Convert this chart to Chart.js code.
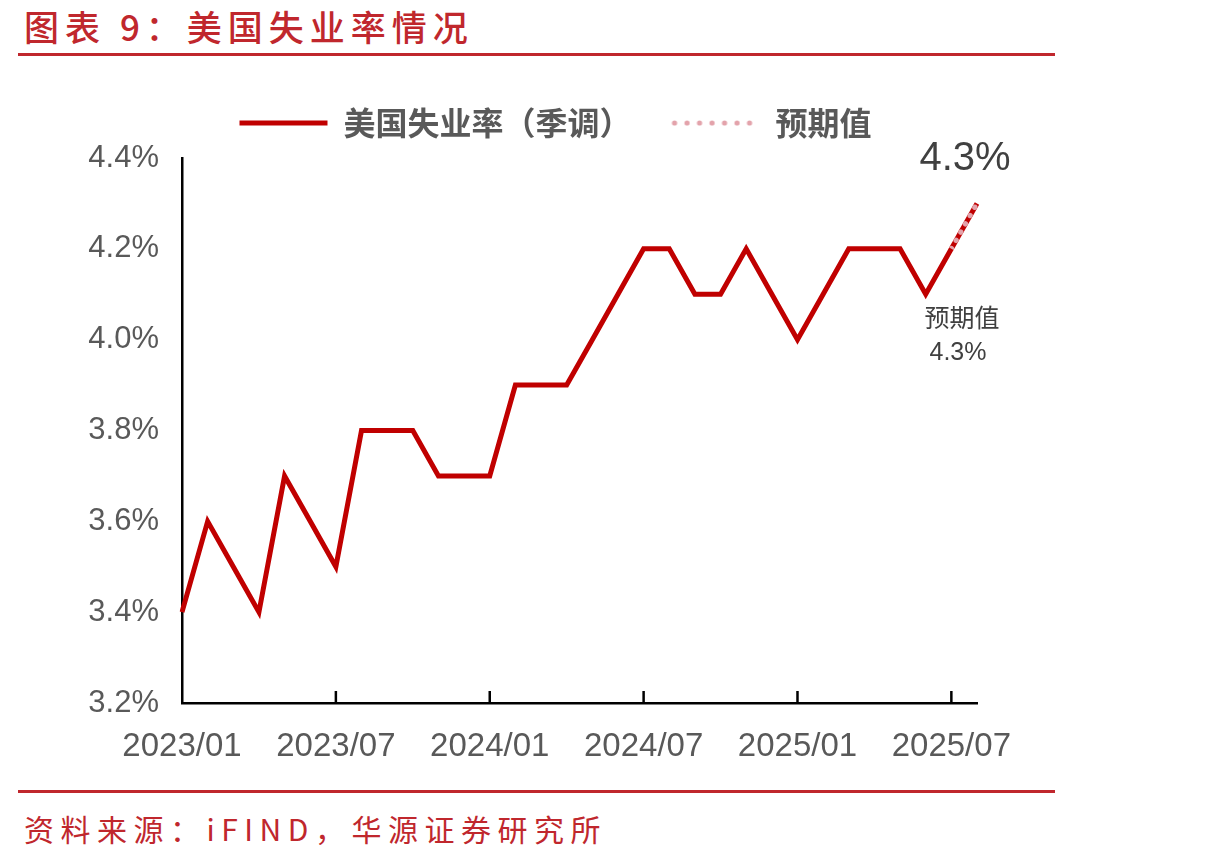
<!DOCTYPE html>
<html>
<head>
<meta charset="utf-8">
<script src="https://cdn.jsdelivr.net/npm/chart.js@4.4.1/dist/chart.umd.min.js"></script>
<style>
  body { margin: 0; background: #fff; width: 1210px; height: 865px; position: relative; overflow: hidden; }
  .title { position: absolute; left: 24px; top: 0px; font: 500 35px "Noto Sans CJK SC", sans-serif; color: #c0272d; letter-spacing: 6px; }
  .rule { position: absolute; left: 18px; width: 1037px; height: 3px; background: #c0272d; }
  .source { position: absolute; left: 24px; top: 806px; font: 30px "Noto Sans CJK SC", sans-serif; color: #c0272d; letter-spacing: 6.5px; }
  #box { position: absolute; left: 0; top: 67px; width: 1060px; height: 713px; }
</style>
</head>
<body>
<div class="title">图表 9：美国失业率情况</div>
<div class="rule" style="top:53px"></div>
<div id="box"><canvas id="rate"></canvas></div>
<div class="rule" style="top:790px"></div>
<div class="source">资料来源：iFIND，华源证券研究所</div>
<script>
const months = ['2023/01','2023/02','2023/03','2023/04','2023/05','2023/06','2023/07','2023/08','2023/09','2023/10','2023/11','2023/12',
  '2024/01','2024/02','2024/03','2024/04','2024/05','2024/06','2024/07','2024/08','2024/09','2024/10','2024/11','2024/12',
  '2025/01','2025/02','2025/03','2025/04','2025/05','2025/06','2025/07','2025/08'];
const unemployment = [3.4,3.6,3.5,3.4,3.7,3.6,3.5,3.8,3.8,3.8,3.7,3.7,
  3.7,3.9,3.9,3.9,4.0,4.1,4.2,4.2,4.1,4.1,4.2,4.1,
  4.0,4.1,4.2,4.2,4.2,4.1,4.2,null];
const forecast = [null,null,null,null,null,null,null,null,null,null,null,null,
  null,null,null,null,null,null,null,null,null,null,null,null,
  null,null,null,null,null,null,4.2,4.3];
const yTicks = [3.2,3.4,3.6,3.8,4.0,4.2,4.4];

const numFont = "'Liberation Sans', Arial, 'Noto Sans CJK SC', sans-serif";
const pink = '#e3a3ab';

// dotted legend marker (the built-in line marker comes out solid)
const dots = document.createElement('canvas');
dots.width = 90; dots.height = 8;
{
  const c = dots.getContext('2d');
  c.fillStyle = pink;
  for (let x = 4; x < 90; x += 12.5) {
    c.beginPath(); c.arc(x, 4, 2.6, 0, Math.PI * 2); c.fill();
  }
}

const tweaks = {
  id: 'tweaks',
  afterInit(chart) {
    // extra room under the legend
    const fit = chart.legend.fit;
    chart.legend.fit = function () { fit.call(this); this.height += 9; };
  },
  afterLayout(chart) {
    // legend sits a bit right of the plot centre
    chart.legend.left += 42;
    chart.legend.right += 42;
  },
  // tick marks stand up inside the plot, every 6 months
  afterDraw(chart) {
    const x = chart.scales.x, ctx = chart.ctx, bottom = chart.chartArea.bottom;
    ctx.save();
    ctx.strokeStyle = '#000';
    ctx.lineWidth = 2.5;
    for (let i = 6; i < months.length; i += 6) {
      const px = x.getPixelForValue(i);
      ctx.beginPath();
      ctx.moveTo(px, bottom);
      ctx.lineTo(px, bottom - 12);
      ctx.stroke();
    }
    ctx.restore();
  }
};

// labels next to the forecast point
const forecastLabels = {
  id: 'forecastLabels',
  afterDatasetsDraw(chart) {
    const meta = chart.getDatasetMeta(1);
    const last = forecast.length - 1;
    const pt = meta.data[last];
    const txt = forecast[last].toFixed(1) + '%';
    const ctx = chart.ctx;
    ctx.save();
    ctx.fillStyle = '#404040';
    ctx.textAlign = 'center';
    ctx.textBaseline = 'middle';
    ctx.font = '40px ' + numFont;
    ctx.fillText(txt, pt.x - 12, pt.y - 44);
    ctx.font = '25px ' + numFont;
    ctx.fillText('预期值', pt.x - 15, pt.y + 117);
    ctx.fillText(txt, pt.x - 19, pt.y + 150);
    ctx.restore();
  }
};

new Chart(document.getElementById('rate'), {
  type: 'line',
  data: {
    labels: months,
    datasets: [
      {
        label: '美国失业率（季调）',
        data: unemployment,
        borderColor: '#c00000',
        borderWidth: 5,
        pointRadius: 0,
        pointStyle: 'line',
        tension: 0
      },
      {
        label: '预期值',
        data: forecast,
        borderColor: pink,
        borderWidth: 5,
        borderDash: [0.5, 9],
        borderCapStyle: 'round',
        pointRadius: 0,
        pointStyle: dots,
        tension: 0
      },
      {
        label: 'base',
        data: forecast,
        borderColor: '#c00000',
        borderWidth: 5,
        pointRadius: 0,
        tension: 0,
        order: 5
      }
    ]
  },
  options: {
    responsive: true,
    maintainAspectRatio: false,
    animation: false,
    layout: { padding: { left: 50, right: 83, top: 0, bottom: 0 } },
    plugins: {
      tooltip: { enabled: false },
      legend: {
        position: 'top',
        labels: {
          filter: item => item.text !== 'base',
          usePointStyle: true,
          pointStyleWidth: 88,
          boxHeight: 5,
          padding: 40,
          color: '#595959',
          font: { family: "'Noto Sans CJK SC', sans-serif", size: 32, weight: 'bold' }
        }
      }
    },
    scales: {
      x: {
        offset: false,
        grid: { display: false },
        border: { color: '#000', width: 2.5 },
        afterFit: s => { s.height = 77; },
        ticks: {
          autoSkip: false,
          maxRotation: 0,
          padding: 16,
          color: '#595959',
          font: { family: numFont, size: 33 },
          callback: (v, i) => (i % 6 === 0 && i < 31 ? months[i] : null)
        }
      },
      y: {
        min: 3.2,
        max: 4.4,
        grid: { display: false },
        border: { color: '#000', width: 2.5 },
        afterFit: s => { s.width = 132; },
        afterBuildTicks: s => { s.ticks = yTicks.map(v => ({ value: v })); },
        ticks: {
          padding: 15,
          color: '#595959',
          font: { family: numFont, size: 31 },
          callback: v => v.toFixed(1) + '%'
        }
      }
    }
  },
  plugins: [tweaks, forecastLabels]
});
</script>
</body>
</html>
